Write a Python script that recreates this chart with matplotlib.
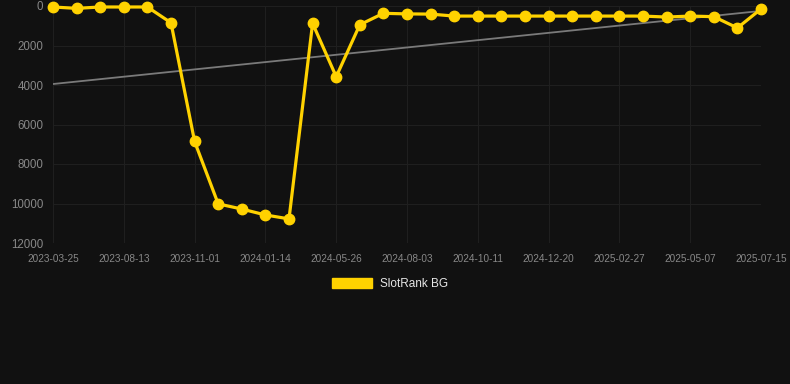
import matplotlib
matplotlib.use("Agg")
import matplotlib.pyplot as plt
from matplotlib.patches import Patch

plt.rcParams['font.family'] = ['Liberation Sans', 'DejaVu Sans']

# SlotRank BG position, one value per point (lower is better, axis inverted)
rank = [50, 120, 50, 50, 50, 850, 6860, 10020, 10280, 10580, 10780,
        880, 3580, 950, 370, 400, 410, 510, 510, 510, 510, 510, 510,
        510, 510, 510, 560, 510, 540, 1110, 150]

# labels shown for every third point
tick_labels = ['2023-03-25', '2023-08-13', '2023-11-01', '2024-01-14',
               '2024-05-26', '2024-08-03', '2024-10-11', '2024-12-20',
               '2025-02-27', '2025-05-07', '2025-07-15']

# trend line end values
trend_start = 3950
trend_end = 250

bg = '#111111'
gold = '#FFD200'

fig = plt.figure(figsize=(7.9, 3.84), dpi=100, facecolor=bg)
ax = fig.add_axes([53/790, 1 - 243/384, 708/790, 237/384], facecolor=bg)

x = list(range(len(rank)))
ax.plot([x[0], x[-1]], [trend_start, trend_end], color='#7a7a7a', lw=1.3, zorder=2)
ax.plot(x, rank, color=gold, lw=2.3, marker='o', markersize=7.5,
        markeredgecolor=gold, zorder=3, clip_on=False)

ax.set_xlim(0, len(rank) - 1)
ax.set_ylim(12000, 0)
ax.set_yticks(range(0, 12001, 2000))
ax.set_xticks(x[::3])
ax.set_xticklabels(tick_labels)

ax.grid(True, color='#1f1f1f', lw=0.8)
ax.set_axisbelow(True)
for s in ax.spines.values():
    s.set_visible(False)
ax.tick_params(axis='x', length=0, pad=8, labelsize=7.2, labelcolor='#888888')
ax.tick_params(axis='y', length=0, pad=7, labelsize=8.3, labelcolor='#888888')

leg = fig.legend(handles=[Patch(color=gold, label='SlotRank BG')],
                 loc='center', bbox_to_anchor=(0.4937, 1 - 284/384),
                 frameon=False, fontsize=8.5, handlelength=3.4,
                 handleheight=1.0, handletextpad=0.6)
for t in leg.get_texts():
    t.set_color('#e6e6e6')

fig.savefig('out.png', dpi=100, facecolor=bg)
